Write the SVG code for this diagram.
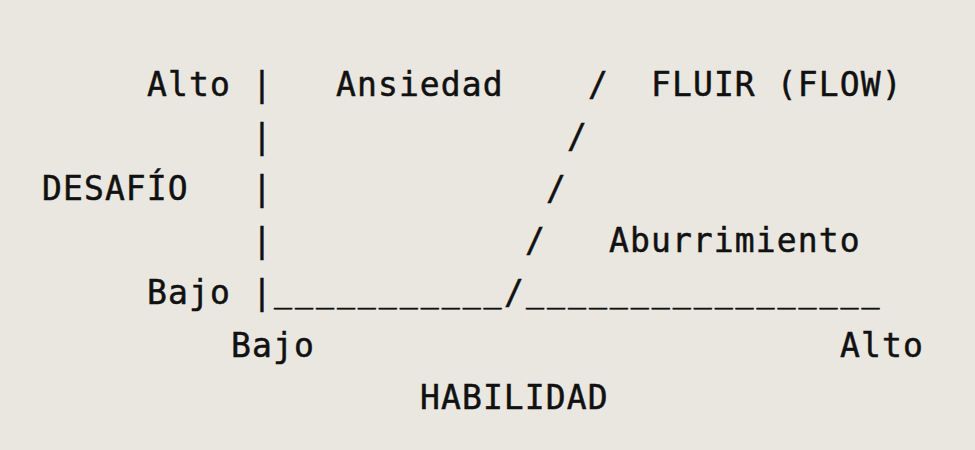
<svg xmlns="http://www.w3.org/2000/svg" width="975" height="450" viewBox="0 0 975 450">
<style>
.t{font-family:"DejaVu Sans Mono","Liberation Mono",monospace;font-size:33px;fill:#111;stroke:#111;stroke-width:0.5px;letter-spacing:1.1px;white-space:pre}
.u{letter-spacing:2.9px;font-size:30px}
</style>
<rect width="975" height="450" fill="#e9e7e0"/>
<g id="axis-y">
<text class="t" x="147" y="96">Alto</text>
<text class="t" x="42" y="200">DESAFÍO</text>
<text class="t" x="147" y="304">Bajo</text>
</g>
<g id="axis-x">
<text class="t" x="231" y="357">Bajo</text>
<text class="t" x="840" y="357">Alto</text>
<text class="t" x="420" y="409">HABILIDAD</text>
</g>
<g id="regions">
<text class="t" x="336" y="96">Ansiedad</text>
<text class="t" x="651" y="96">FLUIR (FLOW)</text>
<text class="t" x="609" y="252">Aburrimiento</text>
</g>
<g id="connectors">
<text class="t" x="252" y="96">|</text>
<text class="t" x="252" y="148">|</text>
<text class="t" x="252" y="200">|</text>
<text class="t" x="252" y="252">|</text>
<text class="t" x="252" y="304">|</text>
<text class="t" x="504" y="304">/</text>
<text class="t u" x="274" y="302">___________</text>
<text class="t u" x="526" y="302">_________________</text>
<text class="t" x="588" y="96">/</text>
<text class="t" x="567" y="148">/</text>
<text class="t" x="546" y="200">/</text>
<text class="t" x="525" y="252">/</text>
</g>
</svg>
